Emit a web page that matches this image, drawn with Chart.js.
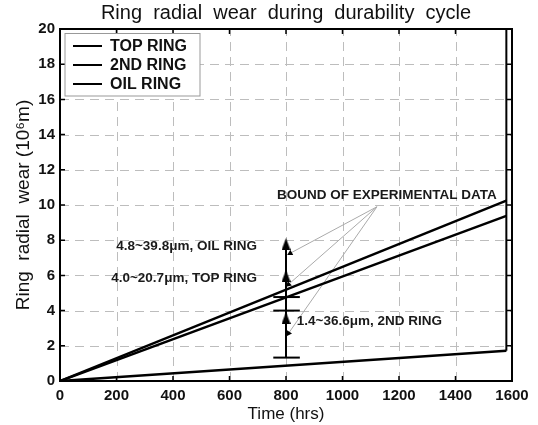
<!DOCTYPE html>
<html><head><meta charset="utf-8">
<script src="https://cdn.jsdelivr.net/npm/chart.js@4/dist/chart.umd.min.js"></script>
<style>html,body{margin:0;padding:0;background:#fff}#wrap{width:538px;height:425px}</style>
</head><body><div id="wrap"><canvas id="c" width="538" height="425"></canvas></div>
<script>
// ---- data ----
const ringNames = ['TOP RING', '2ND RING', 'OIL RING'];
const lineHours = [0, 1580];
const topRingWear = [0, 10.25];
const secondRingWear = [0, 9.38];
const oilRingWear = [0, 1.72];
const boundHour = 800;
const boundLows = [1.33, 4.0, 4.77];   // 2ND, TOP, OIL lower bounds
const boundTop = 7.5;
const capHours = [755, 849];
const arrowLevels = [3.58, 5.97, 7.78];
const leaderFrom = [1122, 9.9];
const leaderHours = [815, 809, 809];
const leaderLevels = [7.26, 5.49, 2.71];
const xTickValues = [0, 200, 400, 600, 800, 1000, 1200, 1400, 1600];
const yTickValues = [0, 2, 4, 6, 8, 10, 12, 14, 16, 18, 20];
const noteTexts = ['BOUND OF EXPERIMENTAL DATA', '4.8~39.8\u03bcm, OIL RING', '4.0~20.7\u03bcm, TOP RING', '1.4~36.6\u03bcm, 2ND RING'];
const noteHours = [768, 697, 697, 838];
const noteLevels = [10.57, 7.63, 5.83, 3.38];

// ---- styles ----
const F = "'Liberation Sans', Arial, Helvetica, sans-serif";
const noteAlign = ['left', 'right', 'right', 'left'];

const arrowImg = document.createElement('canvas');
arrowImg.width = 9; arrowImg.height = 12;
(function(){const g = arrowImg.getContext('2d'); g.fillStyle = '#000'; g.beginPath(); g.moveTo(4.5,0); g.lineTo(9,12); g.lineTo(0,12); g.closePath(); g.fill();})();

const pts = (xs, ys) => xs.map((x, i) => ({x: x, y: ys[i]}));
const solid = (data, w, c) => ({data, showLine: true, borderColor: c || '#000', backgroundColor: c || '#000', borderWidth: w, pointRadius: 0, fill: false});

const datasets = [
  Object.assign(solid(pts(lineHours, topRingWear), 2.5), {label: ringNames[0]}),
  Object.assign(solid(pts(lineHours, secondRingWear), 2.5), {label: ringNames[1]}),
  Object.assign(solid(pts(lineHours, oilRingWear), 2.5), {label: ringNames[2]}),
  solid(pts([lineHours[1], lineHours[1]], [oilRingWear[1], 20]), 2),
  solid(pts([boundHour, boundHour], [boundLows[0], boundTop]), 2),
];
boundLows.forEach(v => datasets.push(solid(pts(capHours, [v, v]), 2)));
datasets.push({data: arrowLevels.map(v => ({x: boundHour, y: v})), showLine: false, pointStyle: arrowImg, pointRadius: 6, borderWidth: 0});
leaderHours.forEach((h, i) => {
  const d = solid(pts([leaderFrom[0], h], [leaderFrom[1], leaderLevels[i]]), 1, '#aaa');
  d.pointRadius = [0, 3.5];
  d.pointStyle = 'triangle';
  d.pointBackgroundColor = '#000';
  d.pointBorderColor = '#000';
  d.pointBorderWidth = 0;
  d.pointRotation = (ctx) => {
    const sx = ctx.chart.scales.x, sy = ctx.chart.scales.y;
    const dx = sx.getPixelForValue(h) - sx.getPixelForValue(leaderFrom[0]);
    const dy = sy.getPixelForValue(leaderLevels[i]) - sy.getPixelForValue(leaderFrom[1]);
    return Math.atan2(dx, -dy) * 180 / Math.PI;
  };
  datasets.push(d);
});

const decor = {
  id: 'decor',
  beforeDatasetsDraw(chart) {
    const {ctx, chartArea: a, scales: {x, y}} = chart;
    ctx.save();
    ctx.strokeStyle = '#bdbdbd'; ctx.lineWidth = 1; ctx.setLineDash([9, 6]);
    ctx.beginPath();
    xTickValues.slice(1, -1).forEach(v => { const px = Math.round(x.getPixelForValue(v)) + 0.5;
      ctx.moveTo(px, a.bottom); ctx.lineTo(px, a.top); });
    yTickValues.slice(1, -1).forEach(v => { const py = Math.round(y.getPixelForValue(v)) + 0.5;
      ctx.moveTo(a.left, py); ctx.lineTo(a.right, py); });
    ctx.stroke();
    ctx.restore();
  },
  afterDatasetsDraw(chart) {
    const {ctx, chartArea: a, scales: {x, y}} = chart;
    ctx.save();
    // inner ticks
    ctx.strokeStyle = '#000'; ctx.lineWidth = 1.5;
    ctx.beginPath();
    xTickValues.slice(1, -1).forEach(v => { const px = x.getPixelForValue(v);
      ctx.moveTo(px, a.bottom); ctx.lineTo(px, a.bottom - 5);
      ctx.moveTo(px, a.top); ctx.lineTo(px, a.top + 5); });
    yTickValues.slice(1, -1).forEach(v => { const py = y.getPixelForValue(v);
      ctx.moveTo(a.left, py); ctx.lineTo(a.left + 5, py);
      ctx.moveTo(a.right, py); ctx.lineTo(a.right - 5, py); });
    ctx.stroke();
    // frame
    ctx.lineWidth = 2;
    ctx.strokeRect(a.left, a.top, a.right - a.left, a.bottom - a.top);
    // notes
    ctx.fillStyle = '#1a1a1a';
    ctx.font = 'bold 13.5px ' + F;
    ctx.textBaseline = 'middle';
    noteTexts.forEach((t, i) => { ctx.textAlign = noteAlign[i];
      ctx.fillText(t, x.getPixelForValue(noteHours[i]), y.getPixelForValue(noteLevels[i])); });
    // legend
    const lx = a.left + 5, ly = a.top + 4.5, lw = 135, lh = 62.5;
    ctx.fillStyle = '#fff'; ctx.fillRect(lx, ly, lw, lh);
    ctx.strokeStyle = '#999'; ctx.lineWidth = 1; ctx.strokeRect(lx, ly, lw, lh);
    ctx.font = 'bold 16px ' + F; ctx.textAlign = 'left'; ctx.textBaseline = 'middle';
    chart.data.datasets.slice(0, 3).forEach((ds, i) => {
      const ry = ly + 12.5 + i * 19;
      ctx.strokeStyle = ds.borderColor; ctx.lineWidth = 2;
      ctx.beginPath(); ctx.moveTo(lx + 8, ry); ctx.lineTo(lx + 37, ry); ctx.stroke();
      ctx.fillStyle = '#111'; ctx.fillText(ds.label, lx + 45, ry + 0.5);
    });
    ctx.restore();
  }
};

const gridOpts = {display: false, drawTicks: false};
const borderOpts = {display: false};

new Chart(document.getElementById('c'), {
  type: 'scatter',
  data: {datasets},
  plugins: [decor],
  options: {
    responsive: false, animation: false, devicePixelRatio: 1,
    layout: {padding: {left: 0, right: 26, top: 0, bottom: 0}},
    plugins: {
      legend: {display: false}, tooltip: {enabled: false},
      title: {display: true, fullSize: false, text: 'Ring  radial  wear  during  durability  cycle', color: '#111',
        font: {family: F, size: 20, weight: 'normal', lineHeight: 1.2}, padding: {top: 1, bottom: 4}}
    },
    scales: {
      x: {type: 'linear', min: 0, max: 1600,
        afterBuildTicks: s => { s.ticks = xTickValues.map(v => ({value: v})); },
        afterFit: s => { s.height = 44; },
        grid: gridOpts,
        border: borderOpts,
        ticks: {color: '#111', padding: 6, maxRotation: 0, callback: v => String(v), font: {family: F, size: 15, weight: 'bold'}},
        title: {display: true, text: 'Time (hrs)', color: '#111', font: {family: F, size: 17}, padding: {top: 0, bottom: 0}}
      },
      y: {type: 'linear', min: 0, max: 20,
        afterBuildTicks: s => { s.ticks = yTickValues.map(v => ({value: v})); },
        afterFit: s => { s.width = 60; },
        grid: gridOpts,
        border: borderOpts,
        ticks: {color: '#111', padding: 5, callback: v => String(v), font: {family: F, size: 15, weight: 'bold'}},
        title: {display: true, text: 'Ring  radial  wear (10\u2076m)', color: '#111', font: {family: F, size: 19}, padding: {top: 12, bottom: 0}}
      }
    }
  }
});
</script></body></html>
